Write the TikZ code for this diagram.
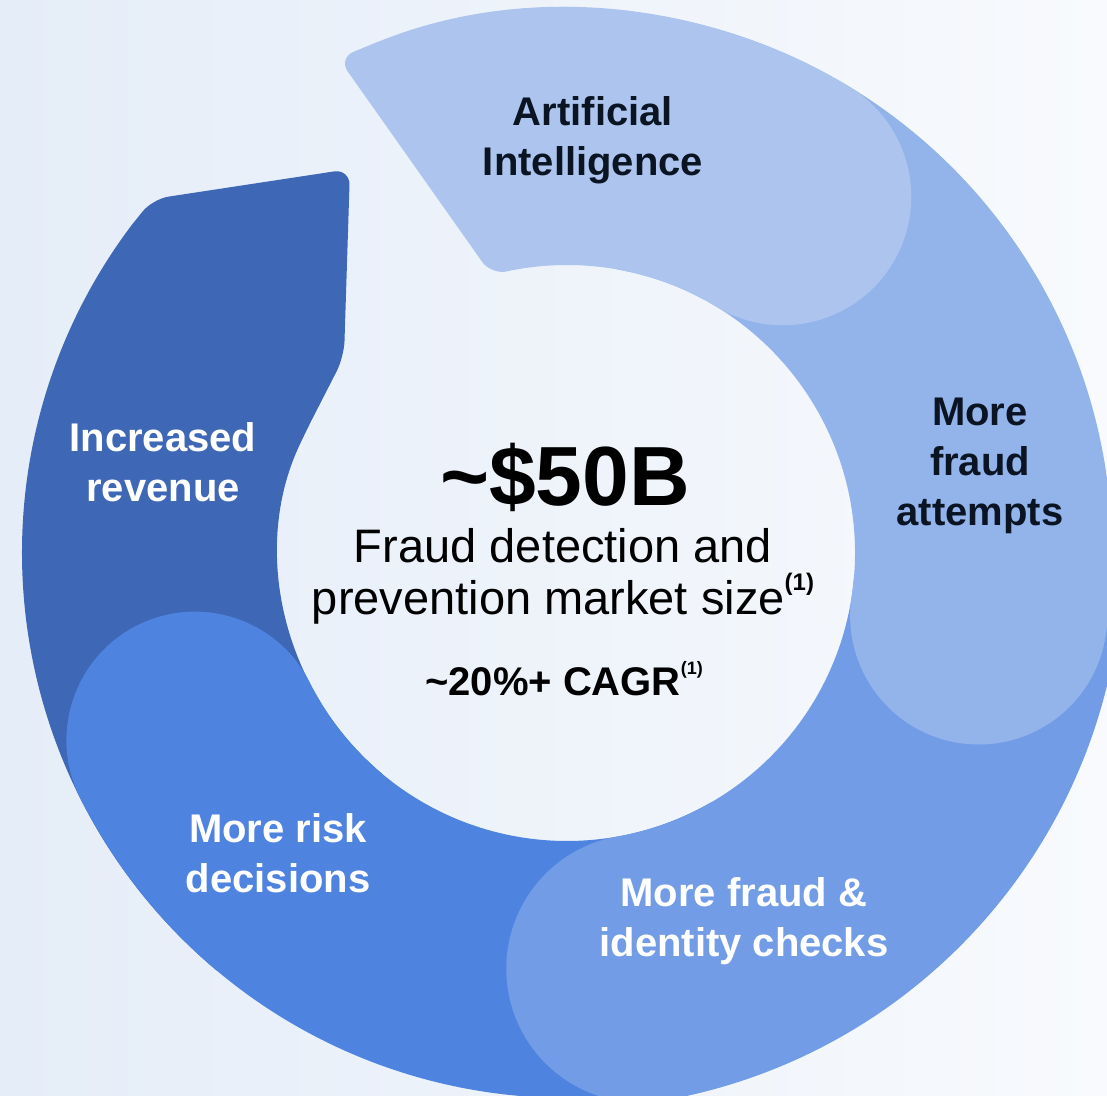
\documentclass[tikz,border=0pt]{standalone}
\usepackage{fontspec}
\setmainfont{Liberation Sans}
\usetikzlibrary{positioning}
\definecolor{bgleft}{HTML}{E5EDF8}
\definecolor{bgright}{HTML}{F8FAFD}
\definecolor{aiblue}{HTML}{ADC5EE}
\definecolor{attemptblue}{HTML}{93B3EB}
\definecolor{checkblue}{HTML}{729DE6}
\definecolor{riskblue}{HTML}{4E83E0}
\definecolor{revblue}{HTML}{3E67B5}
\definecolor{inkdark}{HTML}{0A1422}
\newcommand{\fnmark}[1]{\raisebox{0.95ex}{\fontsize{#1}{#1}\selectfont\bfseries(1)}}

\begin{document}
\begin{tikzpicture}[x=1pt,y=1pt,
    darklbl/.style={align=center,text=inkdark,font=\fontsize{40}{50}\selectfont\bfseries},
    lightlbl/.style={align=center,text=white,font=\fontsize{40}{50}\selectfont\bfseries}]
    \shade[left color=bgleft,right color=bgright] (-567,-542) rectangle (540,553);
    \useasboundingbox (-567,-542) rectangle (540,553);

    \fill[revblue] (230:545) arc[start angle=230,end angle=143,radius=545] [rounded corners=16pt] -- (139.5:545) -- (-217,384) -- (-223,196) -- (151:288) -- (155:288) [sharp corners] arc[start angle=155,end angle=230,radius=288] -- cycle;
    \fill[riskblue] (-60:545) arc[start angle=-60,end angle=-153.3,radius=545] arc[start angle=-153.3,end angle=-333.3,radius=128.5] arc[start angle=-153.3,end angle=-60,radius=288] -- cycle;
    \fill[checkblue] (-5:556) arc[start angle=-5,end angle=-80,radius=556] arc[start angle=-80,end angle=-260,radius=134] arc[start angle=-80,end angle=-5,radius=288] -- cycle;
    \fill[attemptblue] (80:545) arc[start angle=80,end angle=-8.7,radius=545] arc[start angle=-8.7,end angle=-188.7,radius=128.5] arc[start angle=-8.7,end angle=80,radius=288] -- cycle;
    \fill[aiblue] (58.8:545) arc[start angle=58.8,end angle=-121.2,radius=128.5] arc[start angle=58.8,end angle=101.5,radius=288] [rounded corners=16pt] -- (105.2:288) -- (114.8:545) -- (111:545) [sharp corners] arc[start angle=111,end angle=58.8,radius=545] -- cycle;

    \node[darklbl] (ai) at (26,413) {Artificial\\Intelligence};
    \node[darklbl] (attempts) at (413,87) {More\\fraud\\attempts};
    \node[lightlbl] (revenue) at (-404,91) {Increased\\revenue};
    \node[lightlbl] (risk) at (-289,-300) {More risk\\decisions};
    \node[lightlbl] (checks) at (177,-368) {More fraud \&\\identity checks};

    \node[anchor=base,text=black,font=\fontsize{84}{90}\selectfont\bfseries] (size) at (-2,48) {\textasciitilde\$50B};
    \node[align=center,text=black,font=\fontsize{47}{52}\selectfont] (desc) at (-4,-23) {Fraud detection and\\prevention market size\fnmark{24}};
    \node[anchor=base,text=black,font=\fontsize{40}{50}\selectfont\bfseries] (cagr) at (-3,-142) {\textasciitilde20\%+ CAGR\fnmark{18}};
\end{tikzpicture}
\end{document}
